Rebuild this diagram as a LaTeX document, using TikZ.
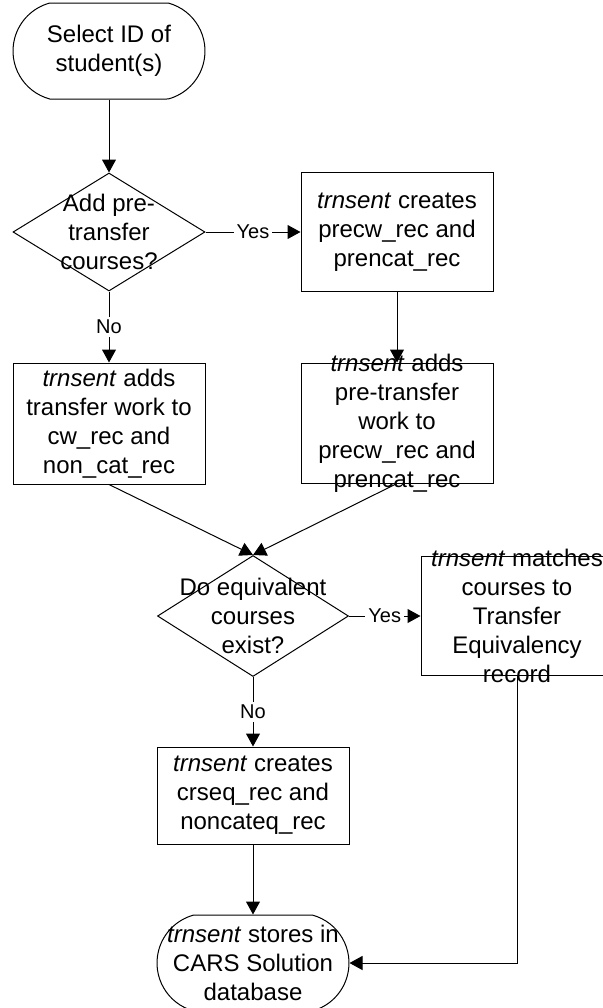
\documentclass[tikz,border=0pt]{standalone}
\usepackage{fontspec}
\setmainfont{Liberation Sans}
\usepackage{tikz}
\usetikzlibrary{shapes.geometric,shapes.misc,arrows.meta}

\begin{document}
\begin{tikzpicture}[x=0.5pt,y=-0.5pt,line width=0.5pt,
    txt/.style={font=\fontsize{12}{14.5}\selectfont, align=center, inner sep=0pt},
    term/.style={draw, rounded rectangle, rounded rectangle arc length=150,
        minimum width=96pt, minimum height=48pt, inner sep=0pt},
    proc/.style={txt, draw, rectangle, minimum width=96pt},
    decision/.style={draw, diamond, inner sep=0pt},
    ans/.style={font=\fontsize{10}{12}\selectfont, fill=white, inner sep=1.5pt},
    arr/.style={-{Triangle[length=6.5pt,width=7pt]}}]
    \clip (0,0) rectangle (603,1008);
    % left column
    \node[term, label={[txt]center:{Select ID of\\student(s)}}] (start) at (109,51) {};
    \node[decision, minimum width=96pt, minimum height=59pt,
        label={[txt]center:{Add pre-\\transfer\\courses?}}] (addpre) at (109,232) {};
    \node[proc, minimum height=60.5pt] (addtr) at (109,423.5)
        {\textit{trnsent} adds\\transfer work to\\cw\_rec and\\non\_cat\_rec};
    % right column
    \node[proc, minimum height=59.5pt] (mkpre) at (397,232)
        {\textit{trnsent} creates\\precw\_rec and\\prencat\_rec};
    \node[proc, minimum height=60pt,
        label={[txt]center:{\textit{trnsent} adds\\pre-transfer\\work to\\precw\_rec and\\prencat\_rec}}] (addpw) at (397,423) {};
    % second question
    \node[decision, minimum width=95.5pt, minimum height=60.5pt,
        label={[txt]center:{Do equivalent\\courses\\exist?}}] (equiv) at (253,616) {};
    \node[proc, minimum height=59.5pt,
        label={[txt]center:{\textit{trnsent} matches\\courses to\\Transfer\\Equivalency\\record}}] (match) at (517,616) {};
    \node[proc, minimum height=48.5pt] (mkeq) at (253,795.5)
        {\textit{trnsent} creates\\crseq\_rec and\\noncateq\_rec};
    \node[term, label={[txt]center:{\textit{trnsent} stores in\\CARS Solution\\database}}] (store) at (253,963) {};

    % connectors
    \draw[arr] (start) -- (addpre);
    \draw[arr] (addpre) -- node[ans] {Yes} (mkpre);
    \draw[arr] (addpre) -- node[ans] {No} (addtr);
    \draw[arr] (mkpre) -- (addpw);
    \draw[arr] (addtr.south) -- (equiv.north);
    \draw[arr] (addpw.south) -- (equiv.north);
    \draw[arr] (equiv) -- node[ans] {Yes} (match);
    \draw[arr] (equiv) -- node[ans] {No} (mkeq);
    \draw[arr] (mkeq) -- (store);
    \draw[arr] (match.south) |- (store.east);
\end{tikzpicture}
\end{document}
